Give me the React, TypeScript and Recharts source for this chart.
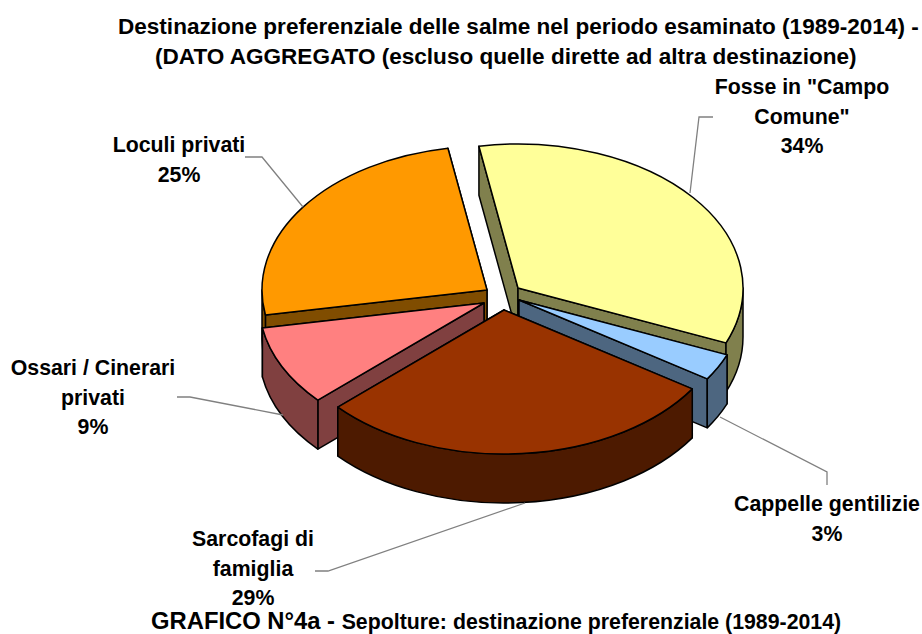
import { PieChart, Pie, Cell } from 'recharts'

const CATEGORIES = ['Fosse in "Campo Comune"', 'Cappelle gentilizie', 'Sarcofagi di famiglia', 'Ossari / Cinerari privati', 'Loculi privati']
const VALUES = [34, 3, 29, 9, 25]
const LABEL_LINES = [['Fosse in "Campo', 'Comune"'], ['Cappelle gentilizie'], ['Sarcofagi di', 'famiglia'], ['Ossari / Cinerari', 'privati'], ['Loculi privati']]

const TOP_COLORS = ['#FFFF99', '#99CCFF', '#993300', '#FF8080', '#FF9900']
const SIDE_COLORS = ['#80804D', '#4D6680', '#4D1A00', '#804040', '#804D00']

// explode offset of every slice from the pie centre
const OFFSETS = [[18, -12], [19, 0], [4, 10], [-16, 3], [-13, -10]]
const LABEL_POS = [[802, 94], [827, 511], [253, 546], [93, 375], [179, 152]]
const LEADERS = ['713,117 699,117 690,193', '720,417 827,472 827,485', '315,571 328,571 525,503', '177,397 190,397 283,415', '245,157 262,157 303,207']

// drawing order, back to front, one Pie per layer
const LAYERS = [[0, 4], [1, 3], [2]]

const CX = 500
const CY = 300
const RADIUS = 225
const SQUASH = 0.64
const DEPTH = 49
const FONT = '"Liberation Sans", Arial, sans-serif'

const rows = CATEGORIES.map((name, i) => ({ name, value: VALUES[i] }))

function makeSlice(visible: number[]) {
  return function Slice(props: any) {
    const i = CATEGORIES.indexOf(props.name)
    if (!visible.includes(i)) return null
    const { cx, cy, outerRadius, startAngle, endAngle } = props
    const ox = cx + OFFSETS[i][0]
    const oy = cy + OFFSETS[i][1]
    const ry = outerRadius * SQUASH
    const at = (deg: number, drop = 0) => {
      const a = (deg * Math.PI) / 180
      return `${ox + outerRadius * Math.cos(a)},${oy - ry * Math.sin(a) + drop}`
    }
    const apex = `${ox},${oy}`
    const apexLow = `${ox},${oy + DEPTH}`
    const arc = (sweep: number) => `A${outerRadius},${ry} 0 0 ${sweep}`
    const common = { stroke: '#000', strokeWidth: 1.5, strokeLinejoin: 'round' as const }

    // only the part of the rim facing the viewer gets a wall
    const wallFrom = Math.min(startAngle, 0)
    const wallTo = Math.max(endAngle, -180)

    // the cut face further back goes first
    const sinOf = (deg: number) => Math.sin((deg * Math.PI) / 180)
    const faces = sinOf(startAngle) > sinOf(endAngle) ? [startAngle, endAngle] : [endAngle, startAngle]

    return (
      <g>
        {faces.map((deg) => (
          <path key={deg} d={`M${apex} L${at(deg)} L${at(deg, DEPTH)} L${apexLow} Z`} fill={SIDE_COLORS[i]} {...common} />
        ))}
        {wallFrom > wallTo && (
          <path
            d={`M${at(wallFrom)} ${arc(1)} ${at(wallTo)} L${at(wallTo, DEPTH)} ${arc(0)} ${at(wallFrom, DEPTH)} Z`}
            fill={SIDE_COLORS[i]}
            {...common}
          />
        )}
        <path d={`M${apex} L${at(startAngle)} ${arc(1)} ${at(endAngle)} Z`} fill={TOP_COLORS[i]} {...common} />
      </g>
    )
  }
}

function renderLabel(props: any) {
  const i = CATEGORIES.indexOf(props.name)
  const [x, y] = LABEL_POS[i]
  const lines = [...LABEL_LINES[i], `${VALUES[i]}%`]
  return (
    <text x={x} y={y} textAnchor="middle" fontFamily={FONT} fontWeight="bold" fontSize={21.3} fill="#000">
      {lines.map((line, n) => (
        <tspan key={n} x={x} y={y + n * 29.5}>
          {line}
        </tspan>
      ))}
    </text>
  )
}

function renderLeader(props: any) {
  const i = CATEGORIES.indexOf(props.name)
  return <polyline points={LEADERS[i]} fill="none" stroke="#808080" strokeWidth={1.3} />
}

const textBase = { position: 'absolute', whiteSpace: 'nowrap', fontFamily: FONT, fontWeight: 'bold', color: '#000' } as const

export default function App() {
  return (
    <div style={{ position: 'absolute', left: 0, top: 0, width: 922, height: 634, background: '#fff', overflow: 'hidden' }}>
      <div style={{ ...textBase, left: 118, top: 16, fontSize: 22.55, lineHeight: '22px' }}>
        Destinazione preferenziale delle salme nel periodo esaminato (1989-2014) -
      </div>
      <div style={{ ...textBase, left: 155, top: 46, fontSize: 22.55, lineHeight: '22px' }}>
        (DATO AGGREGATO (escluso quelle dirette ad altra destinazione)
      </div>
      <PieChart width={922} height={634} margin={{ top: 0, right: 0, bottom: 0, left: 0 }}>
        {LAYERS.map((visible, n) => {
          const last = n === LAYERS.length - 1
          return (
            <Pie
              key={n}
              data={rows}
              dataKey="value"
              nameKey="name"
              cx={CX}
              cy={CY}
              innerRadius={0}
              outerRadius={RADIUS}
              startAngle={100}
              endAngle={-260}
              stroke="none"
              isAnimationActive={false}
              shape={makeSlice(visible)}
              label={last ? renderLabel : false}
              labelLine={last ? renderLeader : false}
            >
              {rows.map((row, i) => (
                <Cell key={row.name} fill={TOP_COLORS[i]} />
              ))}
            </Pie>
          )
        })}
      </PieChart>
      <div style={{ ...textBase, left: 151, top: 610, fontSize: 23.8, lineHeight: '21px' }}>
        GRAFICO N°4a - <span style={{ fontSize: 21.3 }}>Sepolture: destinazione preferenziale (1989-2014)</span>
      </div>
    </div>
  )
}
